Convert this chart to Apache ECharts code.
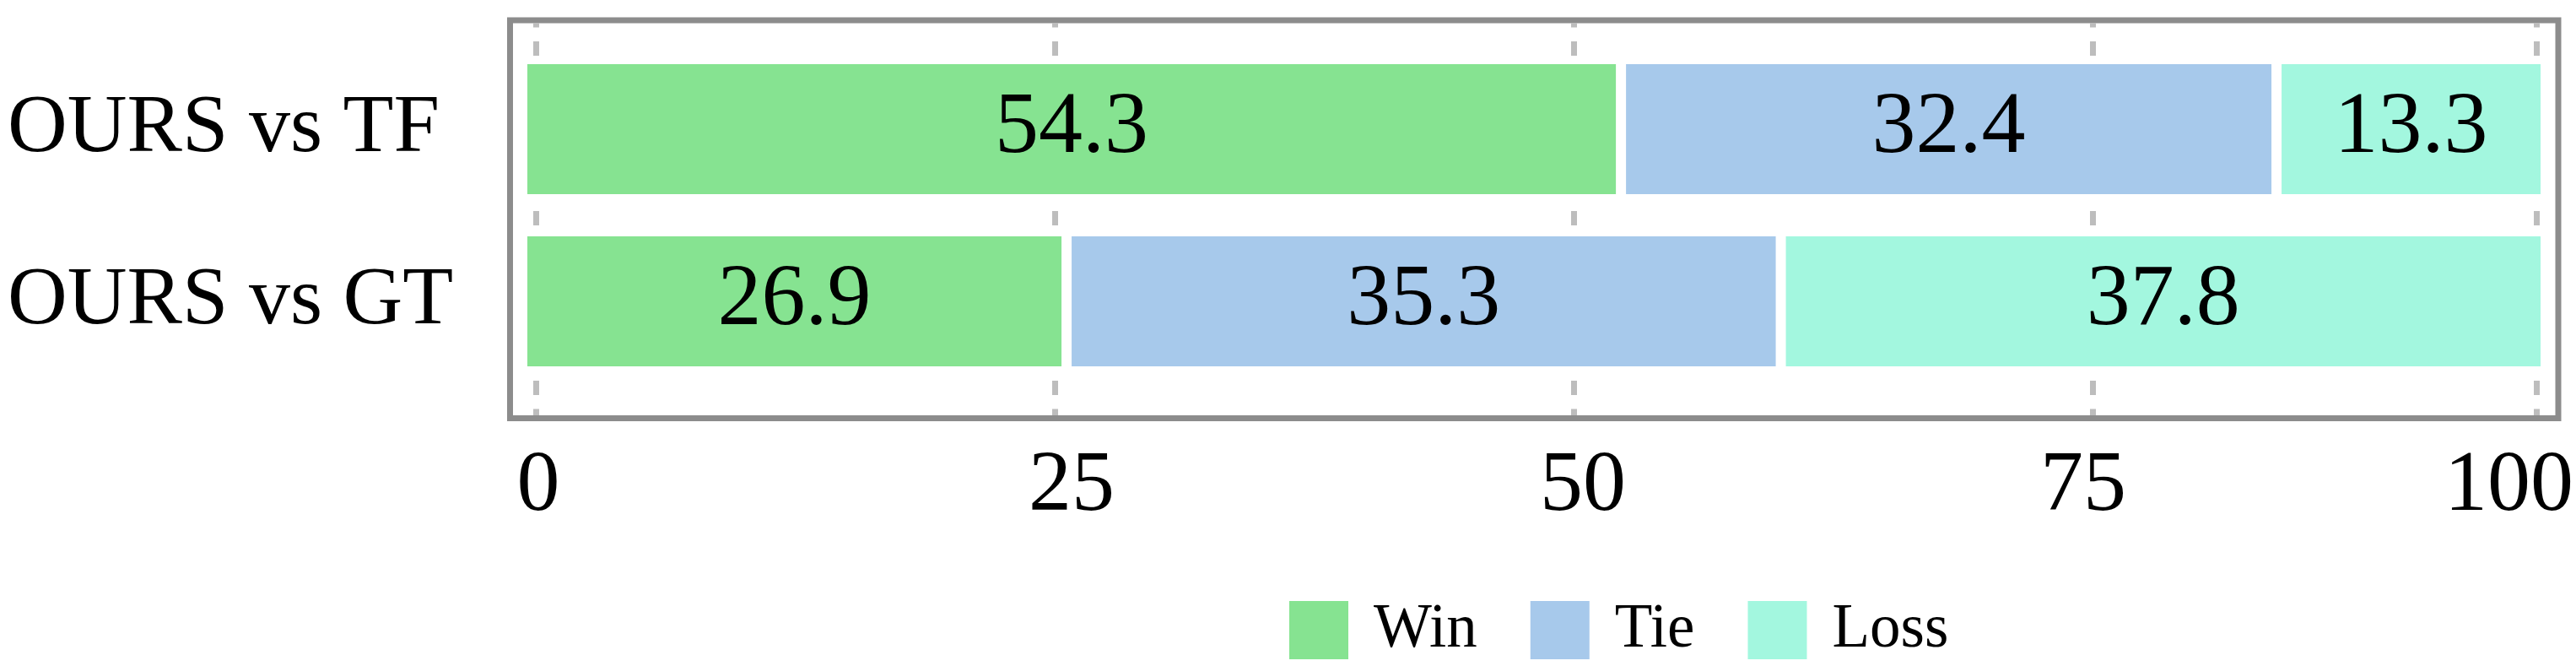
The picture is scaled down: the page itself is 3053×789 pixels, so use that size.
<!DOCTYPE html>
<html>
<head>
<meta charset="utf-8">
<script src="https://cdn.jsdelivr.net/npm/echarts@6/dist/echarts.min.js"></script>
<style>
  html, body { margin: 0; padding: 0; background: #fff; }
  #chart { width: 3053px; height: 789px; }
</style>
</head>
<body>
<div id="chart"></div>
<script>
// ---- data ----
const categories = ['OURS vs TF', 'OURS vs GT'];
const seriesNames = ['Win', 'Tie', 'Loss'];
const winValues = [54.3, 26.9];
const tieValues = [32.4, 35.3];
const lossValues = [13.3, 37.8];
const tickLabels = ['0', '25', '50', '75', '100'];
const gridAxisMax = 96.4;   // last dashed grid line of the reference sits short of a full 100 interval

const colors = ['#86E391', '#A7C9EB', '#A3F7DF'];
const FONT = "'Liberation Serif', 'Times New Roman', serif";

const chart = echarts.init(document.getElementById('chart'), null, { renderer: 'canvas' });

function barSeries(name, data, color) {
  return {
    name: name,
    type: 'bar',
    stack: 'total',
    xAxisIndex: 2,
    yAxisIndex: 2,
    barWidth: 166,
    data: data,
    itemStyle: { color: color, borderColor: '#ffffff', borderWidth: 6 },
    label: {
      show: true,
      position: 'inside',
      formatter: '{c}',
      color: '#000',
      fontFamily: FONT,
      fontSize: 104
    },
    emphasis: { disabled: true }
  };
}

const option = {
  animation: false,
  backgroundColor: '#ffffff',
  grid: [
    { left: 604.5, top: 24, width: 2427.5, height: 471.5, show: true,
      borderColor: '#8c8c8c', borderWidth: 7, backgroundColor: 'transparent' },
    { left: 635, top: 27, width: 2375, height: 465 },
    { left: 619, top: 51, width: 2398, height: 408 }
  ],
  legend: {
    data: seriesNames,
    left: 1521,
    top: 705,
    icon: 'rect',
    itemWidth: 72,
    itemHeight: 71,
    itemGap: 61,
    selectedMode: false,
    textStyle: { fontFamily: FONT, fontSize: 73, color: '#000', padding: [12, 0, 0, 24] }
  },
  xAxis: [
    { gridIndex: 0, type: 'value', show: false, min: 0, max: 100 },
    {
      gridIndex: 1, type: 'value', min: 0, max: gridAxisMax, interval: 25,
      axisLine: { show: false }, axisTick: { show: false },
      splitLine: {
        show: true,
        lineStyle: { color: '#bdbdbd', width: 7, type: [17, 16.5], dashOffset: 11.5 }
      },
      axisLabel: {
        show: true,
        margin: 34,
        color: '#000',
        fontFamily: FONT,
        fontSize: 102,
        formatter: function (v, i) { return '{t' + i + '|' + tickLabels[i] + '}'; },
        rich: {
          t0: { fontFamily: FONT, fontSize: 102, color: '#000', padding: [0, 0, 0, 6] },
          t1: { fontFamily: FONT, fontSize: 102, color: '#000', padding: [0, 0, 0, 40] },
          t2: { fontFamily: FONT, fontSize: 102, color: '#000', padding: [0, 0, 0, 22] },
          t3: { fontFamily: FONT, fontSize: 102, color: '#000', padding: [0, 22, 0, 0] },
          t4: { fontFamily: FONT, fontSize: 102, color: '#000', padding: [0, 66, 0, 0] }
        }
      }
    },
    { gridIndex: 2, type: 'value', min: 0, max: 100, show: false }
  ],
  yAxis: [
    { gridIndex: 0, type: 'category', show: false, data: categories },
    { gridIndex: 1, type: 'value', show: false },
    {
      gridIndex: 2, type: 'category', data: categories, inverse: true,
      axisLine: { show: false }, axisTick: { show: false }, splitLine: { show: false },
      axisLabel: {
        align: 'left',
        margin: 610,
        color: '#000',
        fontFamily: FONT,
        fontSize: 98
      }
    }
  ],
  series: [
    barSeries(seriesNames[0], winValues, colors[0]),
    barSeries(seriesNames[1], tieValues, colors[1]),
    barSeries(seriesNames[2], lossValues, colors[2])
  ]
};

chart.setOption(option);
</script>
</body>
</html>
